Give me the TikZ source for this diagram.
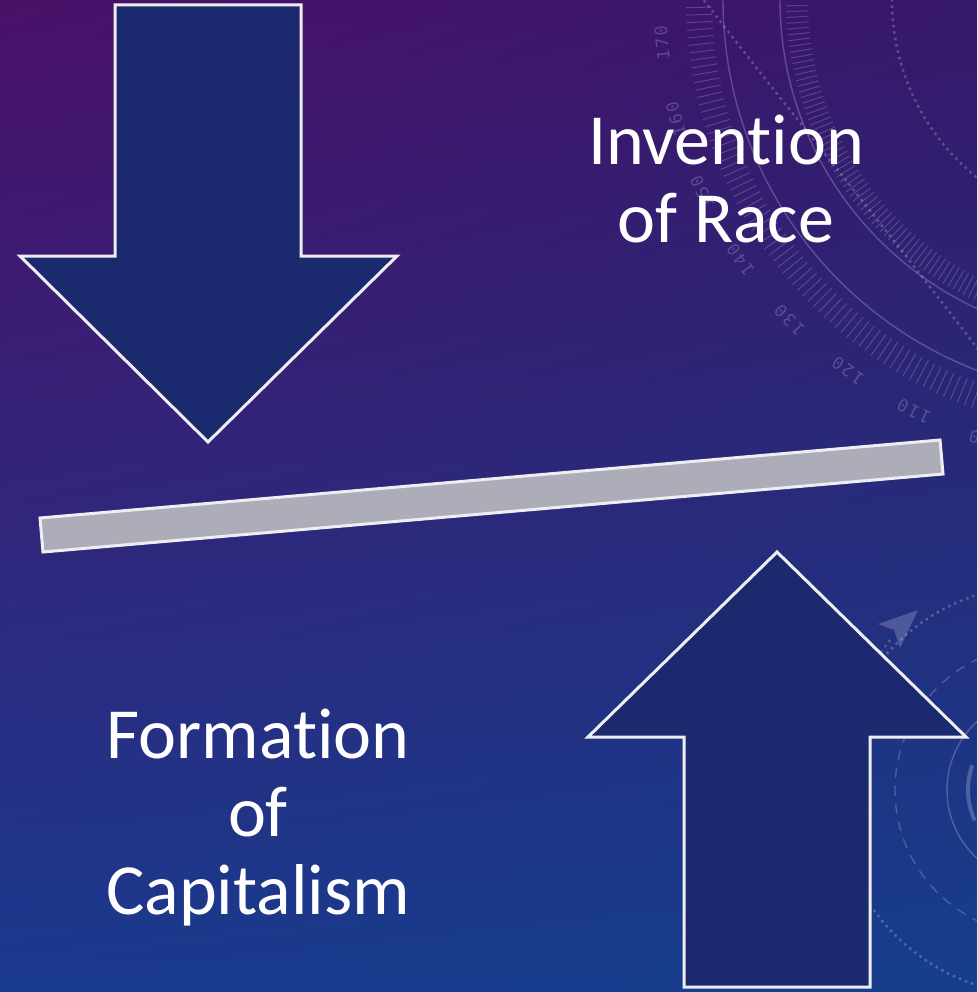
\documentclass[tikz,border=0pt]{standalone}
\usepackage{fontspec}
\setmainfont{Carlito}[Ligatures=NoCommon]
\newfontfamily\numfont{DejaVu Sans Mono}[LetterSpace=12]
\usetikzlibrary{calc,shadings}
\definecolor{bgUL}{RGB}{74,16,104}
\definecolor{bgUR}{RGB}{54,24,106}
\definecolor{bgLL}{RGB}{26,58,142}
\definecolor{bgLR}{RGB}{22,62,140}
\definecolor{arrowblue}{RGB}{27,42,110}
\definecolor{edgewhite}{RGB}{238,238,240}
\definecolor{bargray}{RGB}{172,173,184}
\begin{document}
\begin{tikzpicture}[x=1pt,y=-1pt,
  arrowshape/.style={fill=arrowblue, draw=edgewhite, line width=3pt, line join=miter},
  barshape/.style={fill=bargray, draw=edgewhite, line width=3pt, line join=miter},
  deco/.style={draw=white, opacity=0.22, line width=1.4pt},
  tickline/.style={draw=white, opacity=0.18, line width=1pt},
  dotdeco/.style={draw=white, opacity=0.22, line width=2.5pt, dash pattern=on 2.5pt off 4pt},
  dashdeco/.style={draw=white, opacity=0.2, line width=1.4pt, dash pattern=on 10pt off 8pt},
  numlabel/.style={text=white, opacity=0.2, font=\numfont\fontsize{17}{17}\selectfont, inner sep=0pt},
  bigtext/.style={text=white, font=\fontsize{72}{78}\selectfont, align=center, inner sep=0pt}]
\useasboundingbox (0,0) rectangle (977,992);
% background
\shade[shading=bilinear interpolation, upper left=bgUL, upper right=bgUR, lower left=bgLL, lower right=bgLR] (0,0) rectangle (977,992);
% decorations
\begin{scope}
\clip (0,0) rectangle (977,992);
\coordinate (C) at (1120,0);
\draw[deco] (C) circle[radius=397];
\draw[deco] (C) circle[radius=340];
\draw[dotdeco] (C) circle[radius=228];
\foreach \a in {98,...,186} {
  \draw[tickline] (C) ++(\a:408) -- ++(\a:26);
  \draw[tickline] (C) ++(\a:312) -- ++(\a:22);
}
\foreach \v in {100,110,...,180} {
  \pgfmathsetmacro\ang{116.6+(\v-110)*0.967}
  \node[numlabel, rotate={-\ang-90}] (num\v) at ($(C)+(\ang:460)$) {\v};
}
\draw[dotdeco] (700,-5) .. controls (780,100) and (880,220) .. (990,365);
\coordinate (D) at (1040,790);
\draw[dashdeco] (D) circle[radius=145];
\draw[deco] (D) circle[radius=93];
\draw[deco, line width=4pt] (D) ++(155:72) arc[start angle=155, end angle=200, radius=72];
\draw[dotdeco] (D) circle[radius=205];
\fill[white, opacity=0.2] (918,610) -- (878,624) -- (894,630) -- (900,648) -- cycle;
\draw[dotdeco, line width=2pt] (890,640) -- (872,664);
\end{scope}
% shapes
\draw[arrowshape] (115,5) -- (301,5) -- (301,256) -- (397,256) -- (208,442) -- (20,256) -- (115,256) -- cycle;
\draw[arrowshape] (684,987) -- (870,987) -- (870,737) -- (966,737) -- (777,552) -- (588,737) -- (684,737) -- cycle;
\draw[barshape] (40,518) -- (940,440) -- (943,474) -- (43,552) -- cycle;
% texts
\node[bigtext] (race) at (726,179) {Invention\\of Race};
\node[bigtext] (capital) at (258,818) {Formation\\of\\Capitalism};
\end{tikzpicture}
\end{document}
